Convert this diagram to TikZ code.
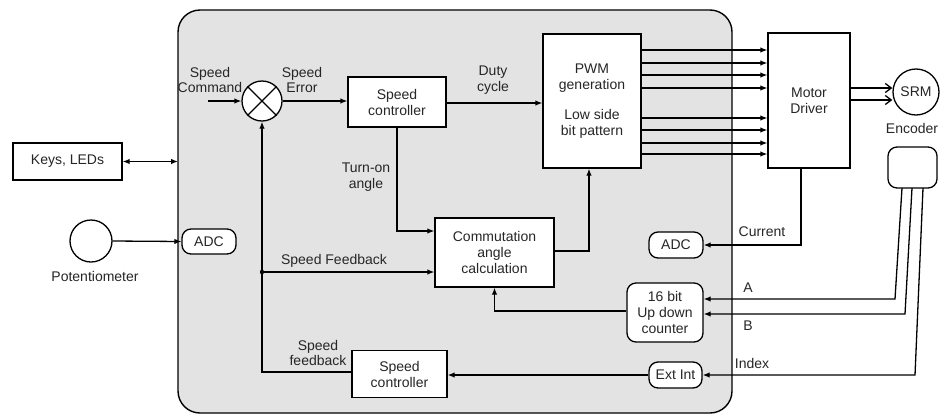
\documentclass[tikz,border=0pt]{standalone}
\usepackage{fontspec}
\setmainfont{Liberation Sans}
\usetikzlibrary{arrows.meta,calc}
\tikzset{
  lbl/.style={font=\fontsize{14}{15.5}\selectfont, text=black!85, align=center, inner sep=0pt},
  blk/.style={draw, fill=white, line width=1.3pt, inner sep=0pt, align=center, font=\fontsize{14}{16}\selectfont, text=black!85},
  rblk/.style={blk, rounded corners=9pt},
  tip/.style={Latex[length=7pt,width=5.5pt]},
  arr/.style={line width=1.3pt, -{Latex[length=7pt,width=5.5pt]}},
  ln/.style={line width=1.3pt},
  barb/.style={line width=1.3pt, -{Straight Barb[length=6pt,width=9pt]}}
}
\begin{document}
\begin{tikzpicture}[x=1pt,y=-1pt]
\useasboundingbox (0,0) rectangle (944,418);
\fill[white] (0,0) rectangle (944,418);
% main board
\draw[line width=1.4pt, fill=gray!22, rounded corners=22pt] (178,10) rectangle (732,413);

% nodes
\node[blk, minimum width=109pt, minimum height=37pt] (keys) at (67.5,161.5) {Keys, LEDs};
\node[draw, circle, line width=1.3pt, minimum size=42pt, inner sep=0pt] (pot) at (91,241) {};
\node[lbl] (potl) at (95,276) {Potentiometer};
\node[rblk, minimum width=54pt, minimum height=25pt] (adcL) at (209,241.5) {ADC};
\node[draw, fill=white, circle, line width=1.3pt, minimum size=40pt, inner sep=0pt] (sum) at (262,101) {};
\draw[ln] (sum.45) -- (sum.225) (sum.135) -- (sum.315);
\node[blk, minimum width=98pt, minimum height=50pt] (sc1) at (397,102) {Speed\\controller};
\node[blk, minimum width=98pt, minimum height=134pt] (pwm) at (592,101) {PWM\\generation\\[14pt]Low side\\bit pattern};
\node[blk, minimum width=82pt, minimum height=135pt] (md) at (809,100.5) {Motor\\Driver};
\node[draw, fill=white, circle, line width=1.3pt, minimum size=46pt, inner sep=0pt, font=\fontsize{14}{15}\selectfont, text=black!85] (srm) at (916,92) {SRM};
\node[lbl] (encl) at (912,128) {Encoder};
\node[rblk, minimum width=49pt, minimum height=41pt] (enc) at (912.5,167.5) {};
\node[blk, minimum width=119pt, minimum height=69pt] (comm) at (494.5,252.5) {Commutation\\angle\\calculation};
\node[rblk, minimum width=54pt, minimum height=26pt] (adcR) at (676,245) {ADC};
\node[rblk, minimum width=76pt, minimum height=59pt] (cnt) at (665,312.5) {16 bit\\Up down\\counter};
\node[rblk, minimum width=53pt, minimum height=26pt] (ext) at (675.5,375) {Ext Int};
\node[blk, minimum width=95pt, minimum height=47pt] (sc2) at (399.5,374) {Speed\\controller};

% labels
\node[lbl] (lcmd) at (210,80) {Speed\\Command};
\node[lbl] (lerr) at (302,80) {Speed\\Error};
\node[lbl] (lduty) at (493,80) {Duty\\cycle};
\node[lbl] (lturn) at (366,177) {Turn-on\\angle};
\node[lbl] (lsfb) at (334,261) {Speed Feedback};
\node[lbl] (lsfb2) at (318,353) {Speed\\feedback};
\node[lbl] (lcur) at (762,232) {Current};
\node[lbl] (lA) at (748,288) {A};
\node[lbl] (lB) at (748,326) {B};
\node[lbl] (lidx) at (752,363) {Index};

% coordinates
\coordinate (kL) at (178,161.5);
\coordinate (cmd) at (208,101);
\coordinate (fb) at (262,272);
\coordinate (eA) at (902,188);
\coordinate (eB) at (912,188);
\coordinate (eI) at (923,188);
\coordinate (cA) at (895,299);
\coordinate (cB) at (905,314);
\coordinate (cI) at (915,375);

% connectors
\draw[line width=1.3pt, {Latex[length=7pt,width=5.5pt]}-{Latex[length=7pt,width=5.5pt]}] (keys.east) -- (kL);
\draw[arr] (pot.east) -- (adcL.west);
\draw[arr] (cmd) -- (sum.west);
\draw[arr] (sum.east) -- (sc1.west |- sum.east);
\draw[arr] (sc1.east |- 0,103) -- (pwm.west |- 0,103);
\foreach \y in {50,63,75,88,118,130,143,154}
  \draw[arr] (pwm.east |- 0,\y) -- (md.west |- 0,\y);
\draw[barb] (md.east |- 0,88) -- (srm.west |- 0,88);
\draw[barb] (md.east |- 0,100) -- (srm.west |- 0,100);
\draw[arr] ([xshift=-8pt]md.south) |- (adcR.east);
\draw[arr] (eA) -- (cA) -- (cnt.east |- cA);
\draw[arr] (eB) -- (cB) -- (cnt.east |- cB);
\draw[arr] (eI) -- (cI) -- (ext.east |- cI);
\draw[arr] (sc1.south) |- (comm.west |- 0,231);
\draw[arr] (comm.east |- 0,251) -| ([xshift=-3pt]pwm.south);
\draw[arr] (sc2.west |- 0,372) -| (sum.south);
\draw[arr] (fb) -- (comm.west |- fb);
\fill (fb) circle (2.2pt);
\draw[arr] (ext.west) -- (sc2.east |- ext.west);
\draw[arr] (cnt.west |- 0,311) -| (comm.south);
\end{tikzpicture}
\end{document}
